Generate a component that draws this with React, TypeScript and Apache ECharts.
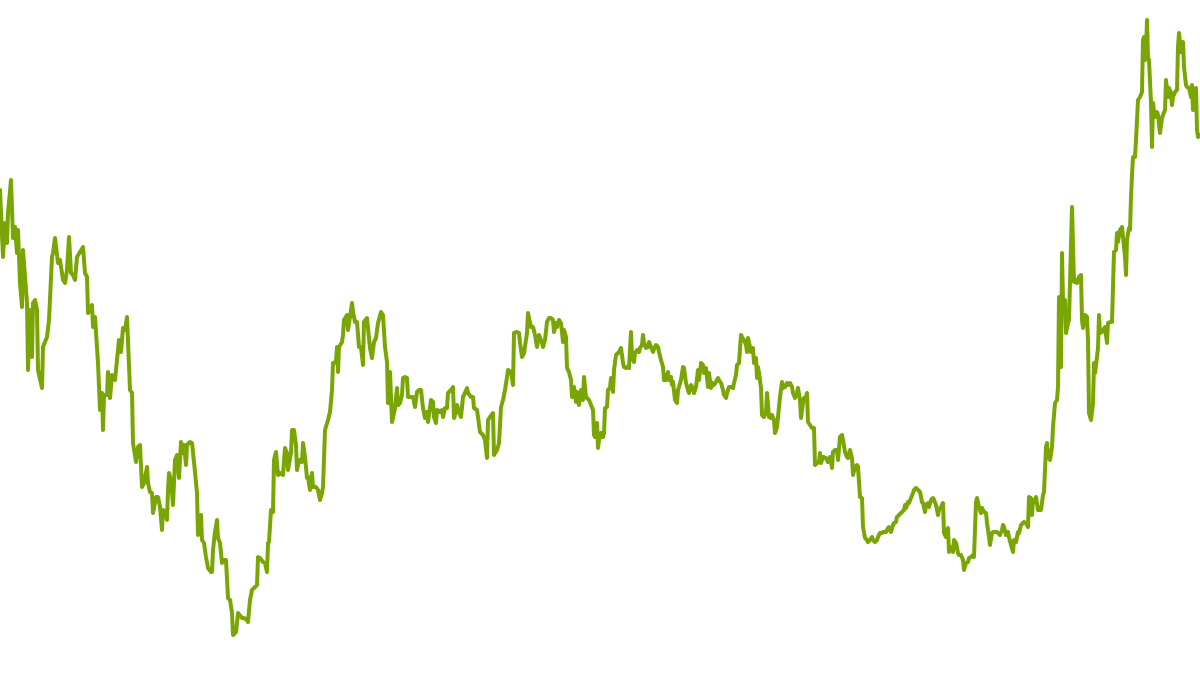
import React, { useEffect, useRef } from "react";
import * as echarts from "echarts";

// [day, price] pairs, split by period
const periodA: [number, number][] = [
  [0,485],[3,418],[5,452],[7,432],[8,462],[11,495],[13,437],[15,448],[17,422],[18,445],
  [20,392],[22,368],[23,425],[25,398],[27,372],[28,305],[30,365],[32,318],[33,372],[35,375],
  [37,365],[38,305],[42,287],[43,328],[47,338],[49,355],[52,418],[53,422],[55,437],[58,412],
  [60,415],[63,395],[65,392],[67,405],[69,438],[71,402],[73,400],[75,395],[77,418],[80,423],
  [83,428],[85,402],[87,398],[88,362],[92,370],[93,348],[95,358],[98,312],
];

const periodB: [number, number][] = [
  [100,265],[102,282],[103,245],[104,280],[107,280],[108,303],[110,277],[112,300],[115,295],[117,315],
  [119,335],[121,323],[123,347],[125,345],[127,358],[130,285],[132,282],[133,232],[136,213],[138,228],
  [140,230],[142,188],[144,192],[147,208],[148,192],[150,183],[152,182],[153,162],[156,178],[158,178],
  [160,168],[162,145],[163,165],[166,163],[167,155],[168,185],[169,202],[171,195],[173,170],[175,215],
  [177,220],[179,197],[181,233],[183,222],[184,230],[186,210],[187,230],[190,233],[192,232],[194,213],
  [197,182],[198,140],[201,160],[202,135],[204,132],[206,118],[208,107],[211,103],[212,103],[213,125],
  [215,143],[217,155],[218,137],[220,132],[222,112],[224,115],[226,115],[228,77],[230,75],[232,62],
  [233,40],[236,43],[237,52],[238,62],[242,57],[244,57],[247,55],[248,53],[250,75],[252,85],
  [254,87],[257,90],[258,118],[260,117],[263,113],[265,112],[267,103],[268,132],[269,133],[271,165],
  [273,163],[274,215],[276,223],[278,200],[280,202],[283,200],[285,227],[287,222],[288,205],[291,222],
  [292,245],[294,245],[296,230],[297,205],[299,215],
];

const periodC: [number, number][] = [
  [302,213],[303,232],[305,218],[307,197],[308,198],[310,185],[312,202],[313,188],[316,188],[318,185],
  [320,175],[322,182],[323,188],[325,245],[328,255],[330,263],[332,285],[333,312],[336,313],[337,328],
  [338,303],[339,328],[342,333],[343,340],[344,355],[347,360],[348,345],[350,358],[352,372],[353,363],
  [355,353],[357,353],[359,328],[361,328],[363,310],[364,353],[367,357],[368,347],[370,327],[372,317],
  [374,333],[376,337],[378,352],[381,363],[383,360],[385,328],[387,313],[388,272],[390,303],[392,253],
  [393,257],[395,267],[397,287],[398,270],[400,272],[402,280],[403,297],[405,298],[407,297],[408,278],
  [411,278],[413,278],[415,268],[417,283],[419,285],[421,285],[423,267],[425,257],[427,263],[428,253],
  [431,275],[433,273],[434,258],[436,252],[437,265],[440,263],[442,265],[443,258],[445,267],[447,267],
  [448,282],[451,285],[453,288],[454,257],[456,263],[457,270],[459,263],[461,258],[463,278],[464,280],
  [467,287],[468,282],[471,278],[473,278],[474,267],[477,265],[478,258],[480,243],[483,240],[485,235],
  [487,217],[488,255],[490,258],[493,262],[494,220],[497,225],[499,232],[501,268],[503,275],[505,285],
  [507,298],[508,305],[511,303],[513,290],[514,342],[517,343],[519,342],[520,332],[522,318],[524,322],
  [527,342],[528,362],[531,348],[533,348],[535,340],[537,328],[539,340],[542,332],[543,328],[545,335],
  [547,353],[549,357],
];

const periodD: [number, number][] = [
  [551,357],[553,355],[554,343],[556,352],[557,348],[559,355],[561,352],[563,333],[564,345],[566,338],
  [567,307],[569,303],[571,295],[572,278],[573,278],[574,288],[576,273],[577,283],[579,270],[581,285],
  [583,275],[584,298],[586,278],[587,277],[589,275],[591,270],[593,265],[594,240],[595,238],[597,252],
  [598,227],[599,235],[601,242],[603,238],[604,242],[605,267],[607,268],[608,285],[610,287],[611,297],
  [613,283],[614,305],[616,320],[618,322],[619,323],[621,327],[623,312],[624,308],[626,307],[627,308],
  [629,307],[631,343],[632,318],[634,313],[635,322],[637,325],[639,323],[640,327],[642,330],[643,340],
  [644,332],[646,327],[648,328],[649,333],[651,328],[653,323],[654,326],[656,330],[658,328],[659,323],
  [661,315],[663,308],[664,295],[666,295],[668,303],[669,295],[671,298],[672,290],[673,293],[675,275],
  [677,272],[678,285],[679,288],[681,295],[683,308],[684,307],[686,292],[688,285],[689,282],[691,290],
  [693,287],[694,282],[696,288],[698,305],[699,295],[701,312],[703,310],[704,302],[706,307],[708,288],
  [709,302],[711,287],[713,292],[714,290],[716,293],[718,297],[719,295],[721,292],[723,285],[724,280],
  [726,277],[727,282],[729,288],[731,288],[733,287],[734,292],[736,300],[737,310],[739,312],[741,340],
  [742,338],[744,335],[746,330],[747,323],[748,337],[750,328],[751,323],[753,327],[754,312],[756,317],
  [757,297],[758,308],[759,302],[761,287],[762,260],[764,258],[766,263],[767,282],[769,258],[771,257],
  [772,260],[774,255],[775,242],[777,248],[778,258],[780,278],[782,293],[783,287],[785,288],[787,292],
  [788,290],[790,292],[792,288],[793,282],[795,277],[797,282],[798,287],[800,275],
];

const periodE: [number, number][] = [
  [801,257],[803,272],[804,277],[806,278],[807,282],[808,253],[810,250],[812,247],[814,247],[815,210],
  [817,212],[819,213],[820,222],[821,212],[823,218],[826,217],[828,213],[830,218],[832,207],[833,223],
  [835,225],[837,225],[838,215],[840,238],[842,240],[843,235],[845,223],[847,218],[848,217],[850,225],
  [852,217],[853,200],[855,208],[857,210],[858,208],[860,178],[862,177],[863,148],[865,137],[867,135],
  [868,133],[870,135],[872,138],[873,135],[875,133],[877,135],[878,138],[880,142],[882,142],[883,143],
  [886,143],[888,147],[889,148],[891,143],[893,150],[894,152],[896,153],[897,158],[899,160],[901,162],
  [902,163],[904,165],[905,170],[906,167],[908,173],[909,172],[911,177],[913,182],[914,185],[916,187],
  [918,185],[920,183],[922,173],[923,172],[925,163],[926,170],[928,172],[929,168],[931,175],[933,177],
  [934,175],[936,170],[938,160],[939,165],[941,168],[943,172],[944,142],[946,138],[948,147],[949,123],
  [951,128],[953,123],[954,135],[956,132],[958,122],[959,120],[961,120],[963,115],[964,105],[966,112],
  [968,113],[969,117],[971,118],[973,120],[974,118],[976,173],[977,177],[979,168],[981,162],[982,167],
  [984,163],[986,162],[987,152],[989,138],[990,130],[992,142],[993,143],[995,143],[997,143],[998,142],
  [1000,140],[1002,145],[1003,150],[1004,148],[1006,140],[1008,143],[1009,138],[1011,130],[1013,123],[1014,135],
  [1016,133],[1018,143],[1019,142],[1021,150],[1023,152],[1024,153],[1026,152],[1028,148],[1029,178],[1031,177],
  [1032,160],[1033,175],[1035,173],[1036,178],[1038,165],[1039,165],[1041,165],[1043,180],[1044,183],
];

const periodF: [number, number][] = [
  [1046,228],[1047,232],[1048,218],[1050,215],[1052,228],[1053,248],[1055,272],[1057,275],[1058,288],[1059,378],
  [1061,308],[1062,422],[1063,375],[1065,375],[1066,342],[1068,352],[1069,355],[1070,392],[1072,468],[1074,393],
  [1076,395],[1077,392],[1079,398],[1081,400],[1082,355],[1083,347],[1085,360],[1087,358],[1088,335],[1089,262],
  [1091,255],[1093,272],[1094,312],[1095,302],[1097,318],[1098,327],[1099,360],[1100,342],[1102,343],[1103,345],
  [1105,348],[1107,332],[1108,352],[1110,353],[1112,353],[1113,388],[1114,423],[1116,425],[1117,442],[1118,433],
  [1120,445],[1122,448],[1123,438],[1125,418],[1126,400],[1127,435],[1129,447],[1130,445],[1131,478],[1132,500],
  [1133,518],[1135,518],[1136,535],[1137,555],[1138,575],[1140,578],[1142,583],[1143,635],[1144,638],[1145,615],
  [1146,625],[1147,655],[1148,617],[1149,615],[1151,572],[1152,528],[1153,572],[1154,563],[1155,558],[1157,563],
  [1158,560],[1160,542],[1162,557],[1163,560],[1165,565],[1166,595],[1168,578],[1169,587],[1171,582],[1172,570],
  [1173,578],[1175,583],[1177,585],[1178,628],[1179,642],[1181,623],[1183,633],[1184,608],[1186,590],[1187,588],
  [1189,587],[1191,578],[1192,590],[1193,565],[1195,575],[1196,587],[1197,545],[1198,538],[1200,540],
];

const DAY_MIN = 0;
const DAY_MAX = 1200;
const PRICE_MIN = 0;
const PRICE_MAX = 675;

export default function App() {
  const ref = useRef<HTMLDivElement>(null);

  useEffect(() => {
    if (!ref.current) return;
    const chart = echarts.init(ref.current, null, { renderer: "svg" });
    const data = [...periodA, ...periodB, ...periodC, ...periodD, ...periodE, ...periodF];
    chart.setOption({
      animation: false,
      backgroundColor: "#ffffff",
      grid: { left: 0, right: 0, top: 0, bottom: 0 },
      xAxis: { type: "value", min: DAY_MIN, max: DAY_MAX, show: false },
      yAxis: { type: "value", min: PRICE_MIN, max: PRICE_MAX, show: false },
      series: [
        {
          type: "line",
          data,
          showSymbol: false,
          symbol: "none",
          lineStyle: { color: "#7aa605", width: 4, cap: "round", join: "round" },
        },
      ],
    });
    return () => chart.dispose();
  }, []);

  return (
    <div
      ref={ref}
      style={{ position: "absolute", left: 0, top: 0, width: 1200, height: 675 }}
    />
  );
}
